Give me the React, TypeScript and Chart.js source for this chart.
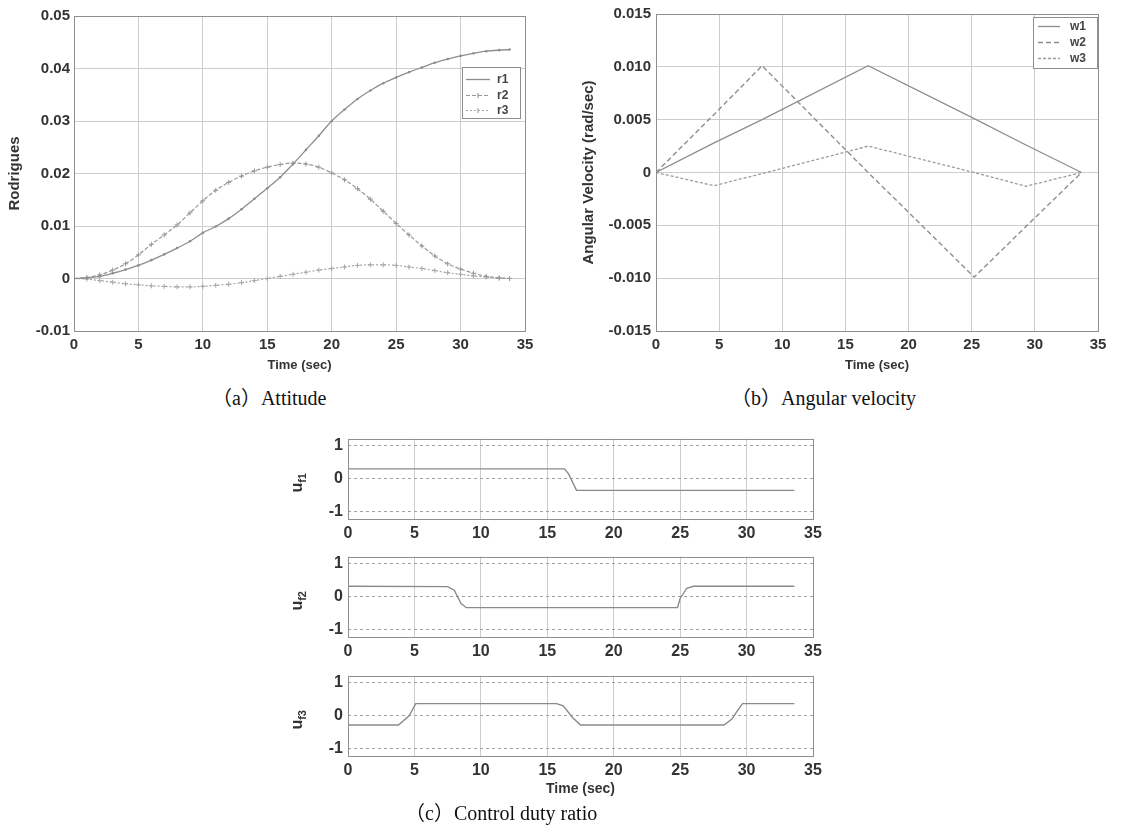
import React, { useEffect, useRef } from "react";
import { Chart, registerables } from "chart.js";

Chart.register(...registerables);

// ---------------- data ----------------
// (a) Attitude (Rodrigues parameters)
const T_ATT = [0, 1, 2, 3, 4, 5, 6, 7, 8, 9, 10, 11, 12, 13, 14, 15, 16, 17, 18, 19, 20, 21, 22, 23, 24, 25, 26, 27, 28, 29, 30, 31, 32, 33, 33.8];
const R1 = [0, 0.0001, 0.0004, 0.001, 0.0017, 0.0025, 0.0035, 0.0046, 0.0058, 0.0071, 0.0087, 0.0099, 0.0114, 0.0132, 0.0152, 0.0172, 0.0193, 0.0218, 0.0245, 0.0272, 0.03, 0.0322, 0.0342, 0.0358, 0.0372, 0.0383, 0.0393, 0.0402, 0.0411, 0.0418, 0.0424, 0.0429, 0.0433, 0.0435, 0.0436];
const R2 = [0, 0.0002, 0.0007, 0.0016, 0.0028, 0.0045, 0.0065, 0.0083, 0.0102, 0.0125, 0.0148, 0.0168, 0.0183, 0.0195, 0.0205, 0.0212, 0.0217, 0.022, 0.0218, 0.0212, 0.0201, 0.0188, 0.0171, 0.0151, 0.0128, 0.0105, 0.0083, 0.0062, 0.0043, 0.0028, 0.0018, 0.001, 0.0004, 0.0001, 0];
const R3 = [0, -0.0001, -0.0004, -0.0007, -0.001, -0.0012, -0.0014, -0.0015, -0.0016, -0.0016, -0.0015, -0.0013, -0.0011, -0.0008, -0.0004, 0, 0.0004, 0.0008, 0.0012, 0.0016, 0.0019, 0.0022, 0.0025, 0.0026, 0.0026, 0.0025, 0.0022, 0.0019, 0.0015, 0.0011, 0.0008, 0.0005, 0.0003, 0.0001, 0];

// (b) Angular velocity (rad/sec)
const W_TIME = [0, 4.6, 8.4, 16.8, 25.2, 29.3, 33.7];
const W1 = [0, 0.0028, 0.005, 0.0101, 0.0051, 0.0026, 0];
const W2 = [0, 0.0055, 0.0101, 0, -0.0099, -0.0051, 0];
const W3 = [0, -0.00125, -0.0001, 0.0025, 0, -0.0013, 0];

// (c) Control duty ratio
const U1_T = [0, 16.3, 16.6, 17.2, 33.6];
const U1 = [0.3, 0.3, 0.15, -0.35, -0.35];
const U2_T = [0, 7.5, 8.0, 8.5, 8.9, 24.8, 25.0, 25.5, 26.0, 33.6];
const U2 = [0.32, 0.31, 0.2, -0.2, -0.33, -0.33, -0.05, 0.26, 0.32, 0.32];
const U3_T = [0, 3.8, 4.6, 5.1, 15.7, 16.2, 16.9, 17.5, 28.3, 28.9, 29.3, 29.7, 33.6];
const U3 = [-0.28, -0.28, 0, 0.37, 0.37, 0.3, -0.05, -0.28, -0.28, -0.1, 0.15, 0.37, 0.37];

const Y_TICKS_A = [-0.01, 0, 0.01, 0.02, 0.03, 0.04, 0.05];
const Y_TICKS_B = [-0.015, -0.01, -0.005, 0, 0.005, 0.01, 0.015];
const Y_TICKS_C = [-1, 0, 1];
const X_TICKS = [0, 5, 10, 15, 20, 25, 30, 35];

// ---------------- styles ----------------
const SANS = '"Liberation Sans", Arial, Helvetica, sans-serif';
const SERIF = '"Liberation Serif", "Noto Sans CJK SC", serif';
const TICK = "#333";
const GRID = "#cdcdcd";
const FRAME = "#8f8f8f";

const pts = (t: number[], v: number[]) => t.map((x, i) => ({ x, y: v[i] }));
const bold = (size: number) => ({ family: SANS, size, weight: "bold" as const });

// ---------------- plugins ----------------
const framePlugin = {
  id: "frame",
  afterDraw(chart: any) {
    const { ctx, chartArea: a } = chart;
    ctx.save();
    ctx.strokeStyle = FRAME;
    ctx.lineWidth = 1;
    ctx.strokeRect(Math.round(a.left) + 0.5, Math.round(a.top) + 0.5, Math.round(a.right - a.left), Math.round(a.bottom - a.top));
    ctx.restore();
  },
};

const boxLegendPlugin = {
  id: "boxLegend",
  afterDraw(chart: any, _args: any, o: any) {
    if (!o || !o.show) return;
    const { ctx } = chart;
    ctx.save();
    ctx.fillStyle = "#fff";
    ctx.fillRect(o.x, o.y, o.w, o.h);
    ctx.strokeStyle = FRAME;
    ctx.lineWidth = 1;
    ctx.strokeRect(o.x + 0.5, o.y + 0.5, o.w, o.h);
    chart.data.datasets.forEach((ds: any, i: number) => {
      const cy = Math.round(o.y + o.first + i * o.row) + 0.5;
      const x0 = o.x + o.l0;
      const x1 = o.x + o.l1;
      ctx.strokeStyle = ds.borderColor;
      ctx.lineWidth = ds.borderWidth;
      ctx.setLineDash(ds.borderDash || []);
      ctx.beginPath();
      ctx.moveTo(x0, cy);
      ctx.lineTo(x1, cy);
      ctx.stroke();
      ctx.setLineDash([]);
      if (ds.pointStyle === "cross") {
        const mx = (x0 + x1) / 2;
        ctx.beginPath();
        ctx.moveTo(mx, cy - 2.5);
        ctx.lineTo(mx, cy + 2.5);
        ctx.stroke();
      }
      ctx.fillStyle = "#444";
      ctx.font = `bold 12px ${SANS}`;
      ctx.textAlign = "left";
      ctx.textBaseline = "middle";
      ctx.fillText(ds.label, o.x + o.tx, cy);
    });
    ctx.restore();
  },
};

const subLabelPlugin = {
  id: "subLabel",
  afterDraw(chart: any, _args: any, o: any) {
    if (!o || !o.main) return;
    const { ctx, chartArea: a } = chart;
    ctx.save();
    ctx.translate(o.x, (a.top + a.bottom) / 2 + 4);
    ctx.rotate(-Math.PI / 2);
    ctx.fillStyle = TICK;
    ctx.font = `bold 16px ${SANS}`;
    const w1 = ctx.measureText(o.main).width;
    ctx.font = `bold 11px ${SANS}`;
    const w2 = ctx.measureText(o.sub).width;
    const start = -(w1 + w2) / 2;
    ctx.textBaseline = "alphabetic";
    ctx.textAlign = "left";
    ctx.font = `bold 16px ${SANS}`;
    ctx.fillText(o.main, start, 4);
    ctx.font = `bold 11px ${SANS}`;
    ctx.fillText(o.sub, start + w1, 8);
    ctx.restore();
  },
};

const PLUGINS = [framePlugin, boxLegendPlugin, subLabelPlugin];

// ---------------- configs ----------------
function xScale(height: number, font: number, pad: number, title?: string, titleFont = 13, titlePad = 7) {
  return {
    type: "linear" as const,
    min: 0,
    max: 35,
    afterFit: (s: any) => {
      s.height = height;
    },
    afterBuildTicks: (s: any) => {
      s.ticks = X_TICKS.map((value) => ({ value }));
    },
    ticks: { color: TICK, font: bold(font), padding: pad, maxRotation: 0, autoSkip: false },
    grid: { color: GRID, lineWidth: 1, drawTicks: false },
    border: { display: false },
    title: title
      ? { display: true, text: title, color: TICK, font: bold(titleFont), padding: { top: 0, bottom: titlePad } }
      : { display: false },
  };
}

function configA() {
  return {
    type: "line" as const,
    data: {
      datasets: [
        { label: "r1", data: pts(T_ATT, R1), borderColor: "#8e8e8e", borderWidth: 1.3, pointRadius: 1.3, pointStyle: "circle", pointBackgroundColor: "#8e8e8e", pointBorderWidth: 0, cubicInterpolationMode: "monotone" as const },
        { label: "r2", data: pts(T_ATT, R2), borderColor: "#989898", borderWidth: 1.2, borderDash: [4, 2], pointRadius: 2.5, pointStyle: "cross", pointBorderColor: "#989898", pointBorderWidth: 1, cubicInterpolationMode: "monotone" as const },
        { label: "r3", data: pts(T_ATT, R3), borderColor: "#a6a6a6", borderWidth: 1.2, borderDash: [2, 2], pointRadius: 2.5, pointStyle: "cross", pointBorderColor: "#a6a6a6", pointBorderWidth: 1, cubicInterpolationMode: "monotone" as const },
      ],
    },
    options: {
      animation: false as const,
      responsive: false,
      devicePixelRatio: 1,
      events: [],
      layout: { padding: { top: 16, right: 35, left: 0, bottom: 0 } },
      plugins: {
        legend: { display: false },
        tooltip: { enabled: false },
        boxLegend: { show: true, x: 462, y: 67, w: 58, h: 51, first: 12, row: 15.5, l0: 4, l1: 28, tx: 35 },
      },
      scales: {
        x: xScale(49, 15, 5, "Time (sec)", 13, 7),
        y: {
          min: -0.01,
          max: 0.05,
          afterFit: (s: any) => {
            s.width = 74;
          },
          afterBuildTicks: (s: any) => {
            s.ticks = Y_TICKS_A.map((value) => ({ value }));
          },
          ticks: { color: TICK, font: bold(15), padding: 4, callback: (v: any) => (Math.abs(v) < 1e-9 ? "0" : Number(v).toFixed(2)) },
          grid: { color: GRID, lineWidth: 1, drawTicks: false },
          border: { display: false },
          title: { display: true, text: "Rodrigues", color: TICK, font: bold(15), padding: { top: 6, bottom: 0 } },
        },
      },
    },
    plugins: PLUGINS,
  };
}

function configB() {
  return {
    type: "line" as const,
    data: {
      datasets: [
        { label: "w1", data: pts(W_TIME, W1), borderColor: "#8e8e8e", borderWidth: 1.3, pointRadius: 0 },
        { label: "w2", data: pts(W_TIME, W2), borderColor: "#8e8e8e", borderWidth: 1.4, borderDash: [5, 3], pointRadius: 0 },
        { label: "w3", data: pts(W_TIME, W3), borderColor: "#9c9c9c", borderWidth: 1.3, borderDash: [3, 2], pointRadius: 0 },
      ],
    },
    options: {
      animation: false as const,
      responsive: false,
      devicePixelRatio: 1,
      events: [],
      layout: { padding: { top: 12, right: 25, left: 0, bottom: 0 } },
      plugins: {
        legend: { display: false },
        tooltip: { enabled: false },
        boxLegend: { show: true, x: 473, y: 17, w: 64, h: 51, first: 9, row: 16, l0: 5, l1: 27, tx: 37 },
      },
      scales: {
        x: xScale(49, 15, 5, "Time (sec)", 13, 7),
        y: {
          min: -0.015,
          max: 0.015,
          afterFit: (s: any) => {
            s.width = 96;
          },
          afterBuildTicks: (s: any) => {
            s.ticks = Y_TICKS_B.map((value) => ({ value }));
          },
          ticks: { color: TICK, font: bold(15), padding: 5, callback: (v: any) => (Math.abs(v) < 1e-9 ? "0" : Number(v).toFixed(3)) },
          grid: { color: GRID, lineWidth: 1, drawTicks: false },
          border: { display: false },
          title: { display: true, text: "Angular Velocity (rad/sec)", color: TICK, font: bold(15), padding: { top: 20, bottom: 0 } },
        },
      },
    },
    plugins: PLUGINS,
  };
}

function configC(t: number[], v: number[], sub: string, axisH: number, title?: string) {
  return {
    type: "line" as const,
    data: {
      datasets: [{ label: "u" + sub, data: pts(t, v), borderColor: "#8a8a8a", borderWidth: 1.4, pointRadius: 0 }],
    },
    options: {
      animation: false as const,
      responsive: false,
      devicePixelRatio: 1,
      events: [],
      layout: { padding: { top: 6, right: 27, left: 0, bottom: 0 } },
      plugins: {
        legend: { display: false },
        tooltip: { enabled: false },
        subLabel: { main: "u", sub, x: 18 },
      },
      scales: {
        x: xScale(axisH, 16, 5, title, 14, 2),
        y: {
          min: -1.22,
          max: 1.22,
          afterFit: (s: any) => {
            s.width = 68;
          },
          afterBuildTicks: (s: any) => {
            s.ticks = Y_TICKS_C.map((value) => ({ value }));
          },
          ticks: { color: TICK, font: bold(16), padding: 5 },
          grid: { color: "#a0a0a0", lineWidth: 1, drawTicks: false },
          border: { display: false, dash: [3, 3] },
        },
      },
    },
    plugins: PLUGINS,
  };
}

// ---------------- components ----------------
function ChartBox(props: { left: number; top: number; width: number; height: number; make: () => any }) {
  const ref = useRef<HTMLCanvasElement>(null);
  useEffect(() => {
    const chart = new Chart(ref.current as HTMLCanvasElement, props.make());
    return () => chart.destroy();
  }, []);
  const { left, top, width, height } = props;
  return <canvas ref={ref} width={width} height={height} style={{ position: "absolute", left, top, width, height }} />;
}

const captionStyle: React.CSSProperties = {
  position: "absolute",
  fontFamily: SERIF,
  fontSize: 20,
  lineHeight: "24px",
  color: "#111",
  whiteSpace: "pre",
};

export default function App() {
  return (
    <div style={{ position: "fixed", left: 0, top: 0, width: 1123, height: 837, background: "#fff", overflow: "hidden" }}>
      <ChartBox left={0} top={0} width={560} height={380} make={configA} />
      <ChartBox left={560} top={0} width={563} height={380} make={configB} />
      <ChartBox left={280} top={424} width={560} height={119} make={() => configC(U1_T, U1, "f1", 24)} />
      <ChartBox left={280} top={542} width={560} height={119} make={() => configC(U2_T, U2, "f2", 24)} />
      <ChartBox left={280} top={661} width={560} height={139} make={() => configC(U3_T, U3, "f3", 44, "Time (sec)")} />
      <div style={{ ...captionStyle, left: 212, top: 386 }}>（a）Attitude</div>
      <div style={{ ...captionStyle, left: 731, top: 386 }}>（b）Angular velocity</div>
      <div style={{ ...captionStyle, left: 405, top: 801 }}>（c）Control duty ratio</div>
    </div>
  );
}
